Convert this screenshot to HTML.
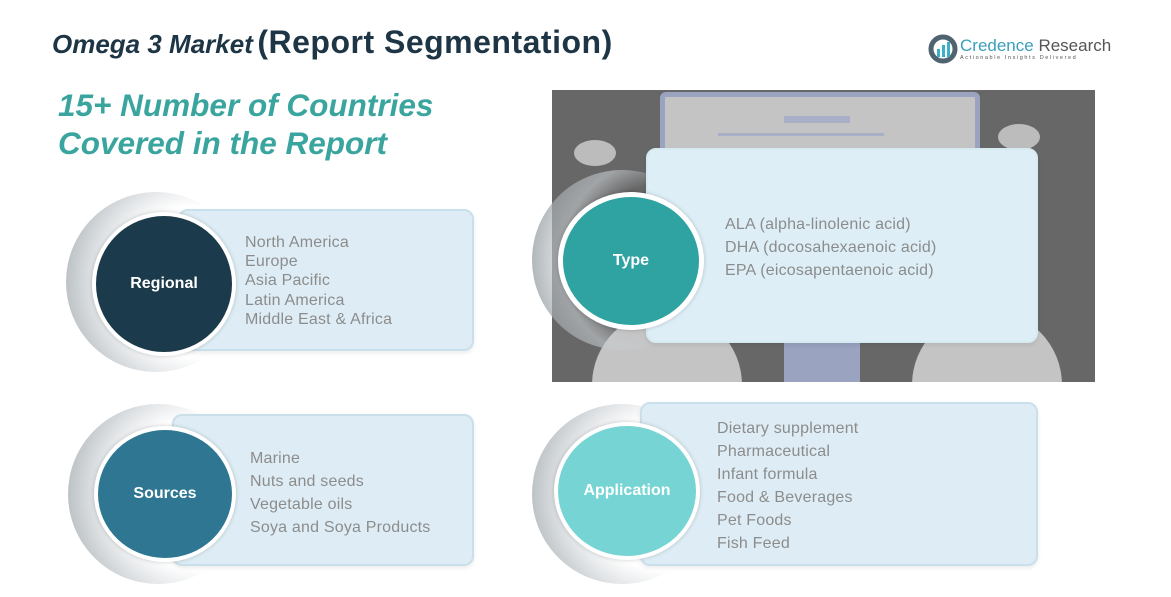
<!DOCTYPE html>
<html><head><meta charset="utf-8"><style>
*{margin:0;padding:0;box-sizing:border-box}
body{width:1171px;height:597px;background:#fff;position:relative;overflow:hidden;font-family:"Liberation Sans","DejaVu Sans",sans-serif}
.a{position:absolute}
.card{position:absolute;background:#deedf5;border:2px solid #c9e0ea;border-radius:10px;box-shadow:0 2px 4px rgba(0,0,0,.08)}
.shadow{position:absolute;border-radius:50%;background:radial-gradient(circle at 72% 50%,#fff 48%,#e2e5e7 64%,#98a1a5 100%)}
.circ{position:absolute;border-radius:50%;border:4px solid #fff;color:#fff;font-weight:bold;font-size:16px;display:flex;align-items:center;justify-content:center;box-shadow:0 0 4px rgba(0,0,0,.2)}
.txt{position:absolute;color:#8c8c8c;font-size:16px;letter-spacing:0.2px}
</style></head><body>
<div class="a" style="left:52px;top:24px;color:#1d3545;font-weight:bold;white-space:nowrap"><span style="font-style:italic;font-size:26px">Omega 3 Market</span> <span style="font-size:32px;letter-spacing:0.5px">(Report Segmentation)</span></div>
<div class="a" style="left:58px;top:86px;color:#3aa59f;font-weight:bold;font-style:italic;font-size:31.5px;line-height:38px">15+ Number of Countries<br>Covered in the Report</div>
<svg class="a" style="left:928px;top:34px" width="30" height="30"><circle cx="15" cy="15" r="12" fill="none" stroke="#4f6470" stroke-width="5"/><rect x="9" y="15" width="3" height="8" fill="#3bb0c9"/><rect x="14" y="11" width="3" height="12" fill="#3bb0c9"/><rect x="19" y="8" width="3" height="15" fill="#3bb0c9"/></svg>
<div class="a" style="left:960px;top:36px;font-size:17px;color:#3a9fbb;white-space:nowrap">Credence <span style="color:#555">Research</span></div>
<div class="a" style="left:960px;top:55px;font-size:5.5px;letter-spacing:1.6px;color:#555;white-space:nowrap">Actionable Insights Delivered</div>

<div class="shadow" style="left:66px;top:192px;width:180px;height:180px"></div>
<div class="card" style="left:178px;top:209px;width:296px;height:142px"></div>
<div class="circ" style="left:92px;top:212px;width:144px;height:144px;background:#1b3a4b">Regional</div>
<div class="txt" style="left:245px;top:233px;line-height:19.2px">North America<br>Europe<br>Asia Pacific<br>Latin America<br>Middle East &amp; Africa</div>

<div class="shadow" style="left:68px;top:404px;width:180px;height:180px"></div>
<div class="card" style="left:172px;top:414px;width:302px;height:152px"></div>
<div class="circ" style="left:94px;top:426px;width:142px;height:136px;background:#2e7691">Sources</div>
<div class="txt" style="left:250px;top:447px;line-height:23px">Marine<br>Nuts and seeds<br>Vegetable oils<br>Soya and Soya Products</div>

<div class="a" style="left:552px;top:90px;width:543px;height:292px;background:#676767;overflow:hidden">
 <div class="a" style="left:108px;top:2px;width:320px;height:100px;background:#c4c4c4;border:5px solid #9aa3bf;border-radius:6px"></div>
 <div class="a" style="left:232px;top:26px;width:66px;height:7px;background:#a9afc6"></div>
 <div class="a" style="left:166px;top:43px;width:166px;height:3px;background:#a9afc6"></div>
 <div class="a" style="left:22px;top:50px;width:42px;height:26px;border-radius:50%;background:#bcbcbc"></div>
 <div class="a" style="left:446px;top:34px;width:42px;height:26px;border-radius:50%;background:#bcbcbc"></div>
 <div class="a" style="left:232px;top:250px;width:76px;height:42px;background:#9aa3bf"></div>
 <div class="a" style="left:40px;top:220px;width:150px;height:150px;border-radius:50%;background:#c4c4c4"></div>
 <div class="a" style="left:360px;top:220px;width:150px;height:150px;border-radius:50%;background:#c4c4c4"></div>
</div>
<div class="shadow" style="left:532px;top:170px;width:180px;height:180px;background:radial-gradient(circle at 72% 50%,transparent 48%,rgba(200,205,208,.6) 64%,rgba(120,130,135,.9) 100%)"></div>
<div class="card" style="left:646px;top:148px;width:392px;height:195px;background:#ddeef6;border-color:#d7e9f1"></div>
<div class="circ" style="left:558px;top:192px;width:146px;height:138px;background:#2ea3a2;border-width:5px">Type</div>
<div class="txt" style="left:725px;top:213px;line-height:23px">ALA (alpha-linolenic acid)<br>DHA (docosahexaenoic acid)<br>EPA (eicosapentaenoic acid)</div>

<div class="shadow" style="left:532px;top:404px;width:180px;height:180px"></div>
<div class="card" style="left:640px;top:402px;width:398px;height:164px"></div>
<div class="circ" style="left:554px;top:422px;width:146px;height:138px;background:#77d4d4">Application</div>
<div class="txt" style="left:717px;top:417px;line-height:23.1px">Dietary supplement<br>Pharmaceutical<br>Infant formula<br>Food &amp; Beverages<br>Pet Foods<br>Fish Feed</div>
</body></html>
